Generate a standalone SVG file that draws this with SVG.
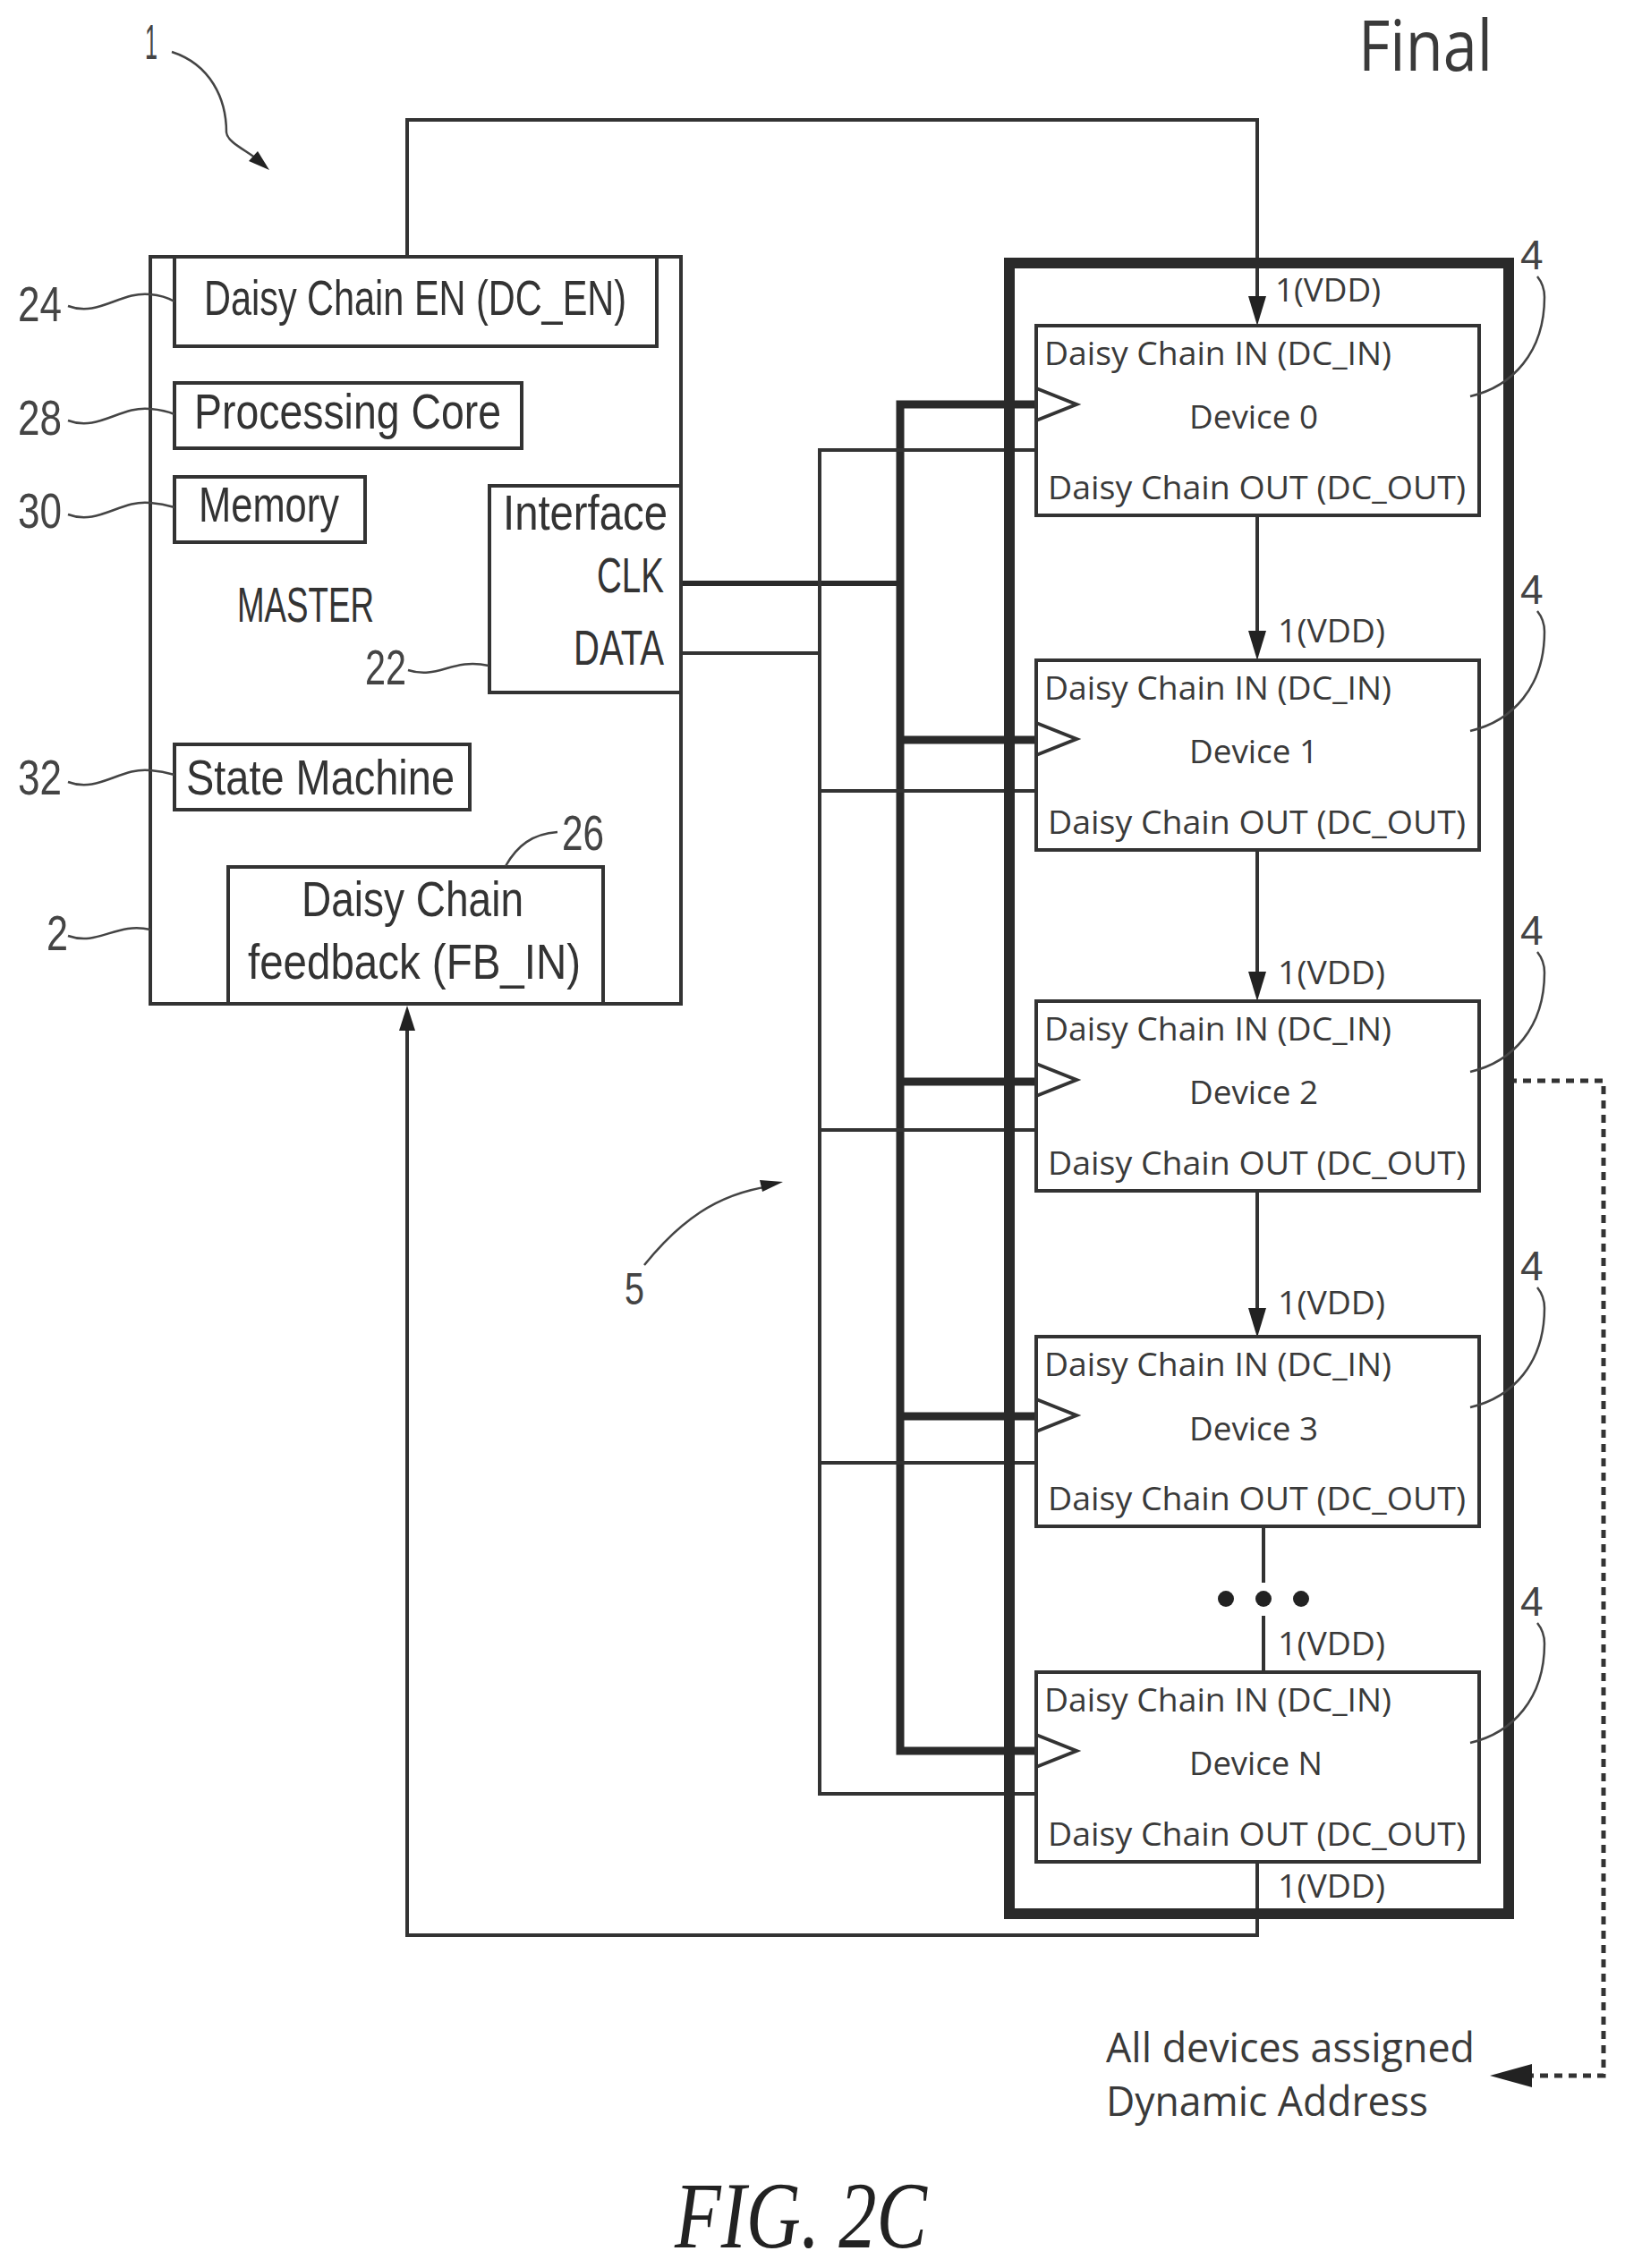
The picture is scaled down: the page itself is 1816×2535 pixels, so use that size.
<svg xmlns="http://www.w3.org/2000/svg" width="1816" height="2535" viewBox="0 0 1816 2535">
<style>
.b{fill:#fff;stroke:#333;stroke-width:4}
.n{fill:none;stroke:#333;stroke-width:4}
.l{fill:none;stroke:#444;stroke-width:2.5}
.t{fill:none;stroke:#2a2a2a;stroke-width:9}
.o{fill:none;stroke:#2a2a2a;stroke-width:12}
.d{font-family:"Liberation Sans",Arial,sans-serif;font-size:56px;fill:#333}
.r{font-family:"Liberation Sans",Arial,sans-serif;font-size:56px;fill:#444}
.s{font-family:"Open Sans","Noto Sans",sans-serif;font-size:37px;fill:#3a3a3a}
.a{fill:#222;stroke:none}
</style>
<defs>
<g id="dev">
<rect class="b" x="1158" y="0" width="495" height="212"/>
<path class="n" d="M1158 70L1203 88L1158 106" fill="#fff"/>
<text class="s" x="1167" y="44" textLength="388" lengthAdjust="spacingAndGlyphs">Daisy Chain IN (DC_IN)</text>
<text class="s" x="1171" y="194" textLength="467" lengthAdjust="spacingAndGlyphs">Daisy Chain OUT (DC_OUT)</text>
<path class="l" d="M1643 79C1690 68 1726 30 1726 -32C1726 -42 1722 -50 1718 -55"/>
<text class="r" x="1699" y="-63" style="font-size:46px">4</text>
</g>
</defs>

<g id="connectors">
<path class="n" d="M455 287V134H1405V335"/>
<path class="a" d="M1395 331H1415L1405 364z"/>
<path class="n" d="M1405 2081V2163H455V1150"/>
<path class="a" d="M446 1152H464L455 1124z"/>
<path class="n" d="M1405 575V710"/>
<path class="a" d="M1395 705H1415L1405 738z"/>
<path class="n" d="M1405 950V1090"/>
<path class="a" d="M1395 1086H1415L1405 1119z"/>
<path class="n" d="M1405 1331V1467"/>
<path class="a" d="M1395 1462H1415L1405 1495z"/>
<path class="n" d="M1412 1705V1769M1412 1806V1869"/>
<circle class="a" cx="1370" cy="1787" r="9"/><circle class="a" cx="1412" cy="1787" r="9"/><circle class="a" cx="1454" cy="1787" r="9"/>
<path class="t" d="M1158 452H1006V1957H1158M1006 827H1158M1006 1209H1158M1006 1583H1158"/>
<path class="t" style="stroke-width:6" d="M761 652H1006"/>
<path class="n" d="M761 730H916M1158 503H916V2005H1158M916 884H1158M916 1263H1158M916 1635H1158"/>
<path class="n" style="stroke-width:5" stroke-dasharray="9 7" d="M1686 1208H1792V2320H1712"/>
<path class="a" d="M1665 2320L1712 2307V2333z"/>
</g>

<g id="bus-frame"><rect class="o" x="1128" y="294" width="558" height="1845"/></g>

<g id="master">
<rect class="n" x="168" y="287" width="593" height="835"/>
<text class="d" x="265" y="695" textLength="153" lengthAdjust="spacingAndGlyphs">MASTER</text>
</g>
<g id="dc-en"><rect class="n" x="195" y="287" width="539" height="100"/>
<text class="d" x="228" y="352" textLength="472" lengthAdjust="spacingAndGlyphs">Daisy Chain EN (DC_EN)</text></g>
<g id="core"><rect class="n" x="195" y="428" width="388" height="73"/>
<text class="d" x="217" y="479" textLength="343" lengthAdjust="spacingAndGlyphs">Processing Core</text></g>
<g id="memory"><rect class="n" x="195" y="533" width="213" height="73"/>
<text class="d" x="222" y="583" textLength="157" lengthAdjust="spacingAndGlyphs">Memory</text></g>
<g id="interface"><rect class="n" x="547" y="543" width="214" height="231"/>
<text class="d" x="562" y="592" textLength="184" lengthAdjust="spacingAndGlyphs">Interface</text>
<text class="d" x="667" y="662" textLength="75" lengthAdjust="spacingAndGlyphs">CLK</text>
<text class="d" x="641" y="743" textLength="101" lengthAdjust="spacingAndGlyphs">DATA</text></g>
<g id="state"><rect class="n" x="195" y="832" width="330" height="73"/>
<text class="d" x="208" y="888" textLength="300" lengthAdjust="spacingAndGlyphs">State Machine</text></g>
<g id="feedback"><rect class="n" x="255" y="969" width="419" height="153"/>
<text class="d" x="337" y="1024" textLength="248" lengthAdjust="spacingAndGlyphs">Daisy Chain</text>
<text class="d" x="277" y="1094" textLength="372" lengthAdjust="spacingAndGlyphs">feedback (FB_IN)</text></g>

<g id="device-0"><use href="#dev" y="364"/><text class="s" x="1329" y="479" textLength="144" lengthAdjust="spacingAndGlyphs">Device 0</text><text class="s" x="1425" y="337" textLength="118" lengthAdjust="spacingAndGlyphs">1(VDD)</text></g>
<g id="device-1"><use href="#dev" y="738"/><text class="s" x="1329" y="853" textLength="144" lengthAdjust="spacingAndGlyphs">Device 1</text><text class="s" x="1428" y="718" textLength="120" lengthAdjust="spacingAndGlyphs">1(VDD)</text></g>
<g id="device-2"><use href="#dev" y="1119"/><text class="s" x="1329" y="1234" textLength="144" lengthAdjust="spacingAndGlyphs">Device 2</text><text class="s" x="1428" y="1100" textLength="120" lengthAdjust="spacingAndGlyphs">1(VDD)</text></g>
<g id="device-3"><use href="#dev" y="1494"/><text class="s" x="1329" y="1610" textLength="144" lengthAdjust="spacingAndGlyphs">Device 3</text><text class="s" x="1428" y="1469" textLength="120" lengthAdjust="spacingAndGlyphs">1(VDD)</text></g>
<g id="device-n"><use href="#dev" y="1869"/><text class="s" x="1329" y="1984" textLength="149" lengthAdjust="spacingAndGlyphs">Device N</text><text class="s" x="1428" y="1850" textLength="120" lengthAdjust="spacingAndGlyphs">1(VDD)</text><text class="s" x="1428" y="2121" textLength="120" lengthAdjust="spacingAndGlyphs">1(VDD)</text></g>

<g id="refs">
<path class="l" d="M192 58C235 72 253 110 253 148C254 160 280 170 292 182"/>
<path class="a" d="M301 190L278 180L288 169z"/>
<text class="r" x="162" y="66" textLength="14" lengthAdjust="spacingAndGlyphs">1</text>
<text class="r" x="20" y="359" textLength="49" lengthAdjust="spacingAndGlyphs">24</text>
<path class="l" d="M76 342C110 355 135 325 168 329C180 330 188 333 195 337"/>
<text class="r" x="20" y="486" textLength="49" lengthAdjust="spacingAndGlyphs">28</text>
<path class="l" d="M76 470C110 483 135 453 168 457C180 458 188 460 195 463"/>
<text class="r" x="20" y="590" textLength="49" lengthAdjust="spacingAndGlyphs">30</text>
<path class="l" d="M76 575C110 588 135 558 168 562C180 563 188 565 195 567"/>
<text class="r" x="408" y="765" textLength="46" lengthAdjust="spacingAndGlyphs">22</text>
<path class="l" d="M456 749C490 760 505 735 546 744"/>
<text class="r" x="20" y="888" textLength="49" lengthAdjust="spacingAndGlyphs">32</text>
<path class="l" d="M76 874C110 887 135 857 168 861C180 862 188 864 195 866"/>
<text class="r" x="628" y="950" textLength="47" lengthAdjust="spacingAndGlyphs">26</text>
<path class="l" d="M565 968C578 945 595 932 623 930"/>
<text class="r" x="52" y="1062" textLength="24" lengthAdjust="spacingAndGlyphs">2</text>
<path class="l" d="M76 1046C110 1058 130 1030 168 1039"/>
<text class="r" x="698" y="1458" style="font-size:50px" textLength="22" lengthAdjust="spacingAndGlyphs">5</text>
<path class="l" d="M720 1414C760 1365 800 1335 860 1326"/>
<path class="a" d="M875 1321L852 1332L849 1319z"/>
</g>

<g id="captions">
<text class="s" x="1518" y="79" style="font-size:78px" textLength="150" lengthAdjust="spacingAndGlyphs">Final</text>
<text class="s" x="1236" y="2305" style="font-size:46px" textLength="412" lengthAdjust="spacingAndGlyphs">All devices assigned</text>
<text class="s" x="1236" y="2365" style="font-size:46px" textLength="360" lengthAdjust="spacingAndGlyphs">Dynamic Address</text>
<text x="754" y="2512" style="font-family:'Liberation Serif','Times New Roman',serif;font-style:italic;font-size:105px;fill:#222" textLength="282" lengthAdjust="spacingAndGlyphs">FIG. 2C</text>
</g>
</svg>
